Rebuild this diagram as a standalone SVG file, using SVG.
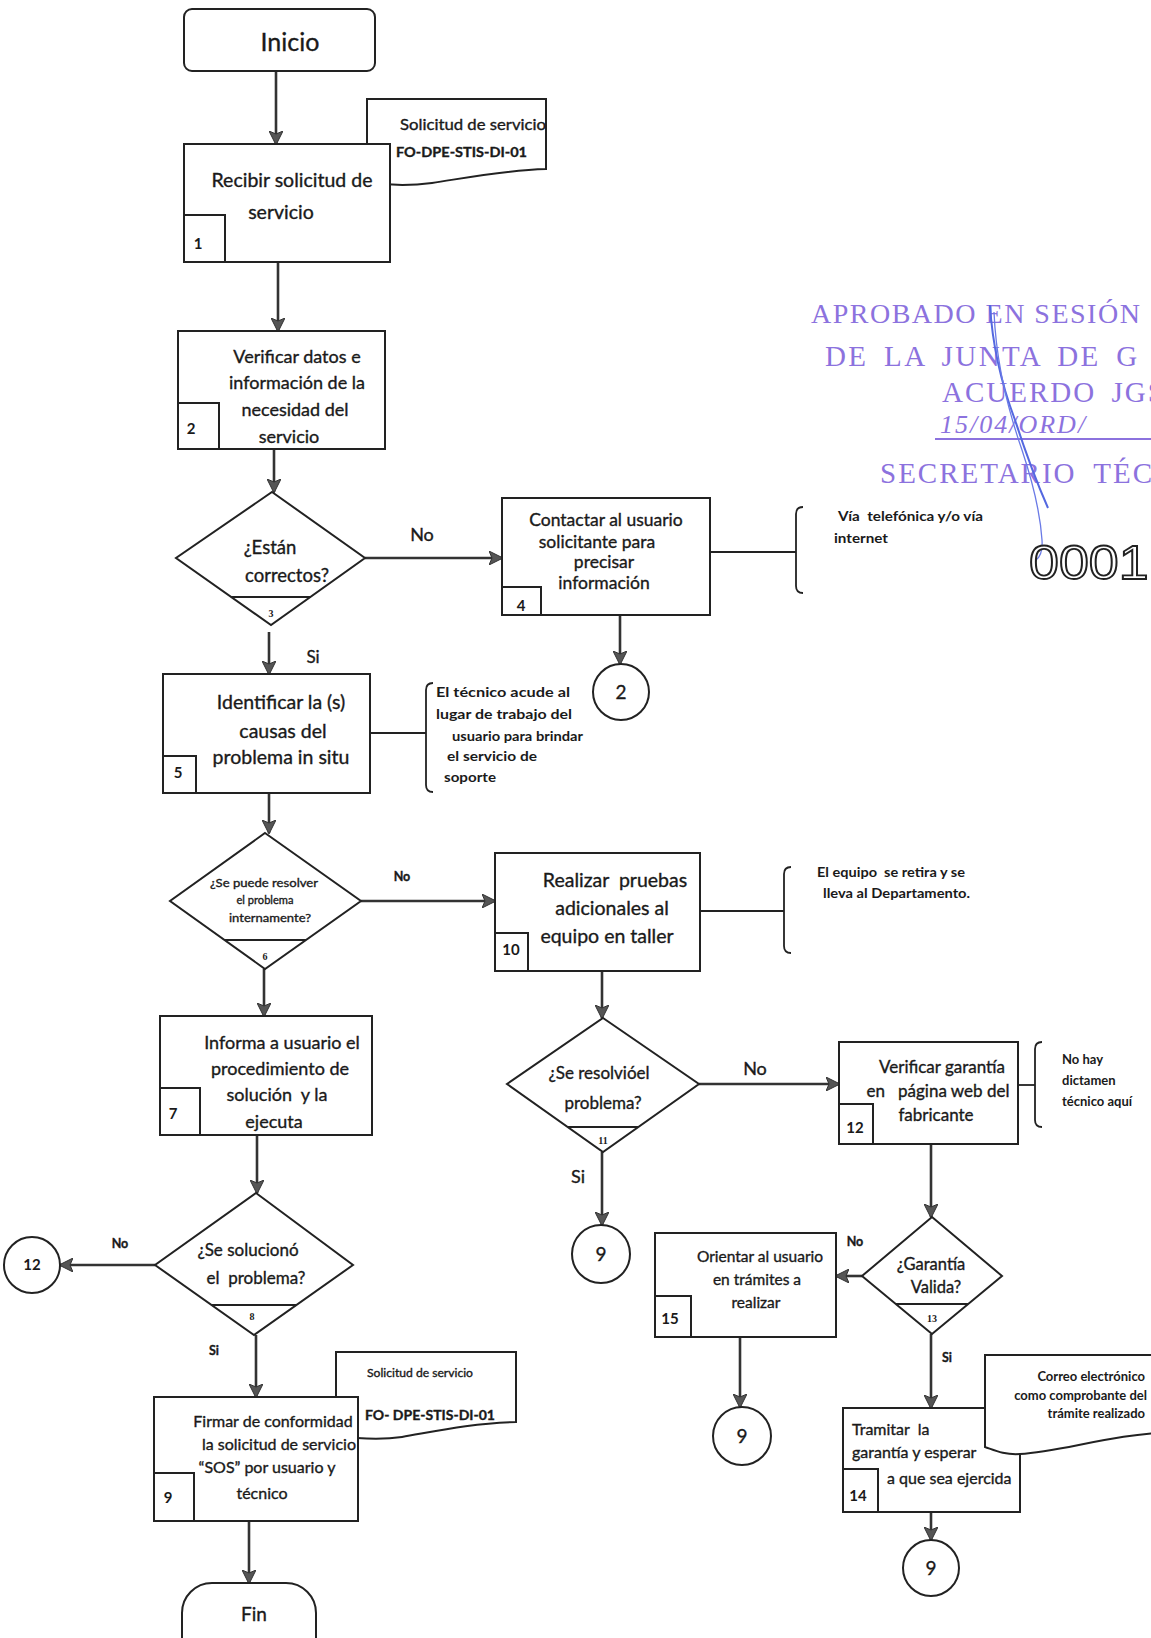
<svg xmlns="http://www.w3.org/2000/svg" width="1151" height="1638" viewBox="0 0 1151 1638">
<defs>
<style>
.bx{fill:#fff;stroke:#222;stroke-width:2}
.nb{fill:#fff;stroke:#222;stroke-width:2}
.cn{fill:none;stroke:#333;stroke-width:2.6}
.ln{fill:none;stroke:#222;stroke-width:1.8}
.br{fill:none;stroke:#222;stroke-width:1.8}
.t{font-family:Lato,"Liberation Sans",sans-serif;fill:#1a1a1a;stroke:#1a1a1a;stroke-width:0.35;text-anchor:middle}
.s{font-family:Lato,"Liberation Sans",sans-serif;fill:#1a1a1a;stroke:#1a1a1a;stroke-width:0.35}
.n{font-family:Lato,"Liberation Sans",sans-serif;fill:#1a1a1a;font-size:15px;font-weight:bold;text-anchor:middle}
.dn{font-family:"Liberation Serif",serif;fill:#1a1a1a;font-size:10px;font-weight:bold;text-anchor:middle}
.nt{font-family:Lato,"Liberation Sans",sans-serif;fill:#1a1a1a;font-size:13px;font-weight:bold}
.st{font-family:"Liberation Serif",serif;fill:#8c72de}
</style>
<marker id="ah" viewBox="0 0 14 14" refX="13" refY="7" markerWidth="14" markerHeight="14" markerUnits="userSpaceOnUse" orient="auto">
<path d="M0,0 L14,7 L0,14 L3,7 Z" fill="#555" stroke="#333" stroke-width="1"/>
</marker>
</defs>
<rect width="1151" height="1638" fill="#fff"/>

<g id="stamp">
<text class="st" x="811" y="323" font-size="28" letter-spacing="1.5">APROBADO EN SESIÓN</text>
<text class="st" x="825" y="366" font-size="29" letter-spacing="2.4" word-spacing="6">DE LA JUNTA DE G</text>
<text class="st" x="942" y="402" font-size="29" letter-spacing="2" word-spacing="6">ACUERDO JGS</text>
<text class="st" x="940" y="433" font-size="26" font-style="italic" letter-spacing="2">15/04/ORD/</text>
<line x1="935" y1="439" x2="1151" y2="439" stroke="#8c72de" stroke-width="2"/>
<text class="st" x="880" y="483" font-size="29" letter-spacing="2" word-spacing="8">SECRETARIO TÉC</text>
<path d="M990 305 C992 340 1000 380 1015 420 C1028 460 1040 490 1048 508" fill="none" stroke="#5468e0" stroke-width="2"/>
<path d="M994 312 C996 360 1008 410 1022 450 C1032 480 1040 510 1042 540 Q1043 555 1036 560" fill="none" stroke="#6a7ae6" stroke-width="1.3"/>
<text x="0" y="0" font-family="'Liberation Sans',sans-serif" font-size="48" fill="#fff" stroke="#222" stroke-width="1.8" transform="translate(1029 579) scale(1.12 1)">0001</text>
</g>

<g id="connectors">
<path class="cn" d="M276 71 V144" marker-end="url(#ah)"/>
<path class="cn" d="M278 262 V331" marker-end="url(#ah)"/>
<path class="cn" d="M274 449 V492" marker-end="url(#ah)"/>
<path class="cn" d="M365 558 H502" marker-end="url(#ah)"/>
<path class="cn" d="M269 632 V674" marker-end="url(#ah)"/>
<path class="cn" d="M620 615 V664" marker-end="url(#ah)"/>
<path class="cn" d="M269 793 V833" marker-end="url(#ah)"/>
<path class="cn" d="M361 901 H495" marker-end="url(#ah)"/>
<path class="cn" d="M264 969 V1016" marker-end="url(#ah)"/>
<path class="cn" d="M602 971 V1018" marker-end="url(#ah)"/>
<path class="cn" d="M699 1084 H839" marker-end="url(#ah)"/>
<path class="cn" d="M602 1152 V1225" marker-end="url(#ah)"/>
<path class="cn" d="M257 1135 V1193" marker-end="url(#ah)"/>
<path class="cn" d="M155 1265 H60" marker-end="url(#ah)"/>
<path class="cn" d="M256 1335 V1397" marker-end="url(#ah)"/>
<path class="cn" d="M249 1521 V1583" marker-end="url(#ah)"/>
<path class="cn" d="M931 1144 V1217" marker-end="url(#ah)"/>
<path class="cn" d="M862 1276 H836" marker-end="url(#ah)"/>
<path class="cn" d="M740 1337 V1407" marker-end="url(#ah)"/>
<path class="cn" d="M931 1334 V1408" marker-end="url(#ah)"/>
<path class="cn" d="M931 1512 V1540" marker-end="url(#ah)"/>
<path class="ln" d="M710 552 H796"/>
<path class="ln" d="M370 733 H426"/>
<path class="ln" d="M700 911 H784"/>
<path class="ln" d="M1018 1085 H1035"/>
<text class="t" x="422" y="541" font-size="18">No</text>
<text class="t" x="313" y="663" font-size="17">Si</text>
<text class="t" x="402" y="881" font-size="12.5" font-weight="bold">No</text>
<text class="t" x="755" y="1075" font-size="18">No</text>
<text class="t" x="578" y="1183" font-size="18">Si</text>
<text class="t" x="120" y="1248" font-size="12.5" font-weight="bold">No</text>
<text class="t" x="214" y="1355" font-size="12.5" font-weight="bold">Si</text>
<text class="t" x="855" y="1246" font-size="12.5" font-weight="bold">No</text>
<text class="t" x="947" y="1362" font-size="12.5" font-weight="bold">Si</text>
</g>

<g id="inicio">
<rect class="bx" x="184" y="9" width="191" height="62" rx="8"/>
<text class="t" x="290" y="51" font-size="25">Inicio</text>
</g>

<g id="doc1">
<path class="bx" d="M367 99 H546 V169 C505 170 465 178 432 183 C410 186 390 186 367 182 Z"/>
<text class="s" x="400" y="130" font-size="15" textLength="146" lengthAdjust="spacingAndGlyphs">Solicitud de servicio</text>
<text class="s" x="396" y="157" font-size="13.5" font-weight="bold" textLength="131" lengthAdjust="spacingAndGlyphs">FO-DPE-STIS-DI-01</text>
</g>

<g id="n1">
<rect class="bx" x="184" y="144" width="206" height="118"/>
<rect class="nb" x="184" y="215" width="41" height="47"/>
<text class="n" x="198" y="249">1</text>
<text class="t" x="292" y="187" font-size="19.5">Recibir solicitud de</text>
<text class="t" x="281" y="219" font-size="19.5">servicio</text>
</g>

<g id="n2">
<rect class="bx" x="178" y="331" width="207" height="118"/>
<rect class="nb" x="178" y="403" width="41" height="46"/>
<text class="n" x="191" y="434">2</text>
<text class="t" x="297" y="363" font-size="18">Verificar datos e</text>
<text class="t" x="297" y="389" font-size="18">información de la</text>
<text class="t" x="295" y="416" font-size="18">necesidad del</text>
<text class="t" x="289" y="443" font-size="18">servicio</text>
</g>

<g id="d3">
<path class="bx" d="M272 492 L365 558 L271 625 L176 558 Z"/>
<path class="ln" d="M231 597 H311"/>
<text class="dn" x="271" y="617">3</text>
<text class="t" x="270" y="554" font-size="18.5">¿Están</text>
<text class="t" x="287" y="582" font-size="18.5">correctos?</text>
</g>

<g id="n4">
<rect class="bx" x="502" y="498" width="208" height="117"/>
<rect class="nb" x="502" y="587" width="39" height="28"/>
<text class="n" x="521" y="611">4</text>
<text class="t" x="606" y="526" font-size="17.5">Contactar al usuario</text>
<text class="t" x="597" y="548" font-size="17.5">solicitante para</text>
<text class="t" x="604" y="568" font-size="17.5">precisar</text>
<text class="t" x="604" y="589" font-size="17.5">información</text>
</g>

<g id="note4">
<path class="br" d="M803 507 Q796 507 796 514 V586 Q796 593 803 593"/>
<text class="nt" x="838" y="521" textLength="145" lengthAdjust="spacingAndGlyphs" xml:space="preserve">Vía  telefónica y/o vía</text>
<text class="nt" x="834" y="543" textLength="54" lengthAdjust="spacingAndGlyphs">internet</text>
</g>

<g id="c2">
<circle class="bx" cx="621" cy="692" r="28"/>
<text class="t" x="621" y="699" font-size="19">2</text>
</g>

<g id="n5">
<rect class="bx" x="163" y="674" width="207" height="119"/>
<rect class="nb" x="163" y="756" width="33" height="37"/>
<text class="n" x="178" y="778">5</text>
<text class="t" x="281" y="709" font-size="19.5">Identificar la (s)</text>
<text class="t" x="283" y="738" font-size="19.5">causas del</text>
<text class="t" x="281" y="764" font-size="19.5">problema in situ</text>
</g>

<g id="note5">
<path class="br" d="M433 683 Q426 683 426 690 V785 Q426 792 433 792"/>
<text class="nt" x="436" y="697" textLength="134" lengthAdjust="spacingAndGlyphs">El técnico acude al</text>
<text class="nt" x="436" y="719" textLength="136" lengthAdjust="spacingAndGlyphs">lugar de trabajo del</text>
<text class="nt" x="452" y="741" textLength="131" lengthAdjust="spacingAndGlyphs">usuario para brindar</text>
<text class="nt" x="447" y="761" textLength="90" lengthAdjust="spacingAndGlyphs">el servicio de</text>
<text class="nt" x="444" y="782" textLength="52" lengthAdjust="spacingAndGlyphs">soporte</text>
</g>

<g id="d6">
<path class="bx" d="M265 833 L361 901 L265 969 L170 901 Z"/>
<path class="ln" d="M224 940 H306"/>
<text class="dn" x="265" y="960">6</text>
<text class="t" x="264" y="887" font-size="12" textLength="108" lengthAdjust="spacingAndGlyphs">¿Se puede resolver</text>
<text class="t" x="265" y="904" font-size="12" textLength="57" lengthAdjust="spacingAndGlyphs">el problema</text>
<text class="t" x="270" y="922" font-size="12" textLength="82" lengthAdjust="spacingAndGlyphs">internamente?</text>
</g>

<g id="n10">
<rect class="bx" x="495" y="853" width="205" height="118"/>
<rect class="nb" x="495" y="933" width="33" height="38"/>
<text class="n" x="511" y="955">10</text>
<text class="t" x="615" y="887" font-size="19.5" xml:space="preserve">Realizar  pruebas</text>
<text class="t" x="612" y="915" font-size="19.5">adicionales al</text>
<text class="t" x="607" y="943" font-size="19.5">equipo en taller</text>
</g>

<g id="note10">
<path class="br" d="M791 867 Q784 867 784 874 V946 Q784 953 791 953"/>
<text class="nt" x="817" y="877" textLength="148" lengthAdjust="spacingAndGlyphs" xml:space="preserve">El equipo  se retira y se</text>
<text class="nt" x="823" y="898" textLength="147" lengthAdjust="spacingAndGlyphs">lleva al Departamento.</text>
</g>

<g id="n7">
<rect class="bx" x="160" y="1016" width="212" height="119"/>
<rect class="nb" x="160" y="1088" width="40" height="47"/>
<text class="n" x="173" y="1119">7</text>
<text class="t" x="282" y="1049" font-size="18">Informa a usuario el</text>
<text class="t" x="280" y="1075" font-size="18">procedimiento de</text>
<text class="t" x="277" y="1101" font-size="18" xml:space="preserve">solución  y la</text>
<text class="t" x="274" y="1128" font-size="18">ejecuta</text>
</g>

<g id="d11">
<path class="bx" d="M603 1018 L699 1084 L603 1152 L507 1084 Z"/>
<path class="ln" d="M568 1127 H638"/>
<text class="dn" x="603" y="1144">11</text>
<text class="t" x="599" y="1079" font-size="17">¿Se resolvióel</text>
<text class="t" x="603" y="1109" font-size="17">problema?</text>
</g>

<g id="n12">
<rect class="bx" x="839" y="1042" width="179" height="102"/>
<rect class="nb" x="839" y="1104" width="34" height="40"/>
<text class="n" x="855" y="1133">12</text>
<text class="t" x="942" y="1073" font-size="17">Verificar garantía</text>
<text class="t" x="938" y="1097" font-size="17" xml:space="preserve">en   página web del</text>
<text class="t" x="936" y="1121" font-size="17">fabricante</text>
</g>

<g id="note12">
<path class="br" d="M1042 1042 Q1035 1042 1035 1049 V1120 Q1035 1127 1042 1127"/>
<text class="nt" x="1062" y="1064">No hay</text>
<text class="nt" x="1062" y="1085">dictamen</text>
<text class="nt" x="1062" y="1106">técnico aquí</text>
</g>

<g id="c9a">
<circle class="bx" cx="601" cy="1254" r="29"/>
<text class="t" x="601" y="1261" font-size="19">9</text>
</g>

<g id="d8">
<path class="bx" d="M256 1193 L353 1265 L254 1335 L155 1265 Z"/>
<path class="ln" d="M212 1305 H296"/>
<text class="dn" x="252" y="1320">8</text>
<text class="t" x="248" y="1256" font-size="17">¿Se solucionó</text>
<text class="t" x="256" y="1284" font-size="17" xml:space="preserve">el  problema?</text>
</g>

<g id="c12">
<circle class="bx" cx="32" cy="1265" r="28"/>
<text class="n" x="32" y="1270">12</text>
</g>

<g id="d13">
<path class="bx" d="M932 1217 L1002 1276 L932 1334 L862 1276 Z"/>
<path class="ln" d="M896 1304 H968"/>
<text class="dn" x="932" y="1322">13</text>
<text class="t" x="931" y="1270" font-size="16.5">¿Garantía</text>
<text class="t" x="936" y="1293" font-size="16.5">Valida?</text>
</g>

<g id="n15">
<rect class="bx" x="655" y="1233" width="181" height="104"/>
<rect class="nb" x="655" y="1296" width="36" height="41"/>
<text class="n" x="670" y="1324">15</text>
<text class="t" x="760" y="1262" font-size="15.5">Orientar al usuario</text>
<text class="t" x="757" y="1285" font-size="15.5">en trámites a</text>
<text class="t" x="756" y="1308" font-size="15.5">realizar</text>
</g>

<g id="c9b">
<circle class="bx" cx="742" cy="1436" r="29"/>
<text class="t" x="742" y="1443" font-size="19">9</text>
</g>

<g id="n14">
<rect class="bx" x="843" y="1408" width="177" height="104"/>
<rect class="nb" x="843" y="1469" width="35" height="43"/>
<text class="n" x="858" y="1501">14</text>
<text class="s" x="852" y="1435" font-size="16" xml:space="preserve">Tramitar  la</text>
<text class="s" x="852" y="1458" font-size="16">garantía y esperar</text>
<text class="s" x="887" y="1484" font-size="16">a que sea ejercida</text>
</g>

<g id="doc14">
<path class="bx" d="M985 1355 H1175 V1432 C1110 1434 1062 1452 1020 1454 C1004 1455 994 1450 985 1447 Z"/>
<text class="nt" x="1145" y="1381" text-anchor="end" font-size="11.5">Correo electrónico</text>
<text class="nt" x="1147" y="1400" text-anchor="end" font-size="11.5">como comprobante del</text>
<text class="nt" x="1145" y="1418" text-anchor="end" font-size="11.5">trámite realizado</text>
</g>

<g id="c9c">
<circle class="bx" cx="931" cy="1568" r="28"/>
<text class="t" x="931" y="1575" font-size="19">9</text>
</g>

<g id="doc9">
<path class="bx" d="M336 1352 H516 V1422 C472 1423 432 1432 402 1437 C382 1440 360 1439 336 1436 Z"/>
<text class="s" x="367" y="1377" font-size="11.5" textLength="106" lengthAdjust="spacingAndGlyphs">Solicitud de servicio</text>
<text class="s" x="365" y="1420" font-size="13.5" font-weight="bold" textLength="130" lengthAdjust="spacingAndGlyphs">FO- DPE-STIS-DI-01</text>
</g>

<g id="n9">
<rect class="bx" x="154" y="1397" width="204" height="124"/>
<rect class="nb" x="154" y="1473" width="40" height="48"/>
<text class="n" x="168" y="1503">9</text>
<text class="t" x="273" y="1427" font-size="16">Firmar de conformidad</text>
<text class="t" x="279" y="1450" font-size="16">la solicitud de servicio</text>
<text class="t" x="267" y="1473" font-size="16">“SOS” por usuario y</text>
<text class="t" x="262" y="1499" font-size="16">técnico</text>
</g>

<g id="fin">
<rect class="bx" x="182" y="1583" width="134" height="90" rx="30"/>
<text class="t" x="254" y="1621" font-size="19">Fin</text>
</g>
</svg>
